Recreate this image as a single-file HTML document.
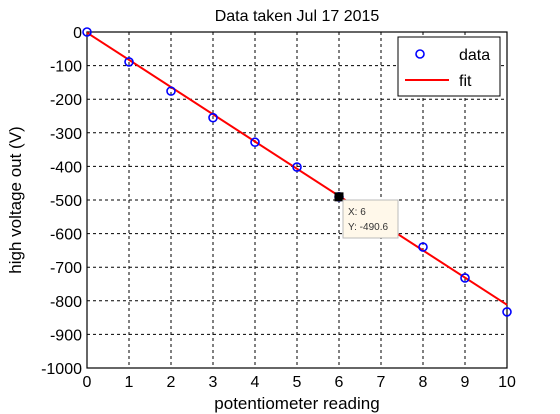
<!DOCTYPE html>
<html><head><style>
body{margin:0;background:#fff;font-family:"Liberation Sans",sans-serif;}
</style></head><body>
<svg width="560" height="414" style="display:block">
<g id="g"></g>
</svg>
<script>
const xs=[0,1,2,3,4,5,6,7,8,9,10];
const ys=[0,-89,-176,-255,-328,-402,-490.6,-568,-640,-732,-833];
const fitX=[0,10];
const fitY=[-2,-812];
const xTicks=[0,1,2,3,4,5,6,7,8,9,10];
const yTicks=[0,-100,-200,-300,-400,-500,-600,-700,-800,-900,-1000];
const L=87,R=507,T=32,B=368;
const sx=v=>L+(v-0)/10*(R-L);
const sy=v=>T+(0-v)/1000*(B-T);
const g=document.getElementById('g');
const NS='http://www.w3.org/2000/svg';
function mk(t,a,txt){const e=document.createElementNS(NS,t);for(const k in a)e.setAttribute(k,a[k]);if(txt!==undefined)e.textContent=txt;g.appendChild(e);return e;}
let e;
e=mk('rect',{x:L,y:T,width:R-L,height:B-T,fill:'#fff'});


xTicks.forEach(t=>{
 if(t>0&&t<10){e=mk('line',{x1:sx(t),x2:sx(t),y1:T,y2:B,stroke:'#000','stroke-dasharray':'3,3','stroke-width':1});
 
 }
 e=mk('text',{x:sx(t),y:B+19,'text-anchor':'middle','font-size':16},String(t));
 
 
});
yTicks.forEach(t=>{
 if(t<0&&t>-1000){e=mk('line',{x1:L,x2:R,y1:sy(t),y2:sy(t),stroke:'#000','stroke-dasharray':'3,3','stroke-width':1});
 
 }
 e=mk('text',{x:L-5,y:sy(t)+6,'text-anchor':'end','font-size':16},String(t));
 
 
});
e=mk('rect',{x:L,y:T,width:R-L,height:B-T,fill:'none',stroke:'#000','stroke-width':1.2});


e=mk('line',{x1:sx(fitX[0]),y1:sy(fitY[0]),x2:sx(fitX[1]),y2:sy(fitY[1]),stroke:'#f00','stroke-width':2});


xs.forEach((x,i)=>{
 e=mk('circle',{cx:sx(x),cy:sy(ys[i]),r:4,fill:'none',stroke:'#00f','stroke-width':1.6});
 
 
});
// datatip
e=mk('rect',{x:sx(6)-4.5,y:sy(-490.6)-4.5,width:9,height:9,fill:'#000'});


e=mk('rect',{x:343,y:200,width:55,height:38,fill:'#fff8ea',stroke:'#bbb'});


e=mk('text',{x:348,y:215,'font-size':10,fill:'#333'},'X: 6');


e=mk('text',{x:348,y:230,'font-size':10,fill:'#333'},'Y: -490.6');


// legend
e=mk('rect',{x:398,y:37,width:102,height:59,fill:'#fff',stroke:'#000'});


e=mk('circle',{cx:420,cy:54,r:4,fill:'none',stroke:'#00f','stroke-width':1.6});


e=mk('text',{x:459,y:60,'font-size':16},'data');


e=mk('line',{x1:405,x2:449,y1:80,y2:80,stroke:'#f00','stroke-width':2});


e=mk('text',{x:459,y:86,'font-size':16},'fit');


e=mk('text',{x:297,y:21,'text-anchor':'middle','font-size':16},'Data taken Jul 17 2015');


e=mk('text',{x:297,y:409,'text-anchor':'middle','font-size':17},'potentiometer reading');


e=mk('text',{x:0,y:0,'text-anchor':'middle','font-size':17,transform:'translate(21,200) rotate(-90)'},'high voltage out (V)');


</script>
</body></html>
